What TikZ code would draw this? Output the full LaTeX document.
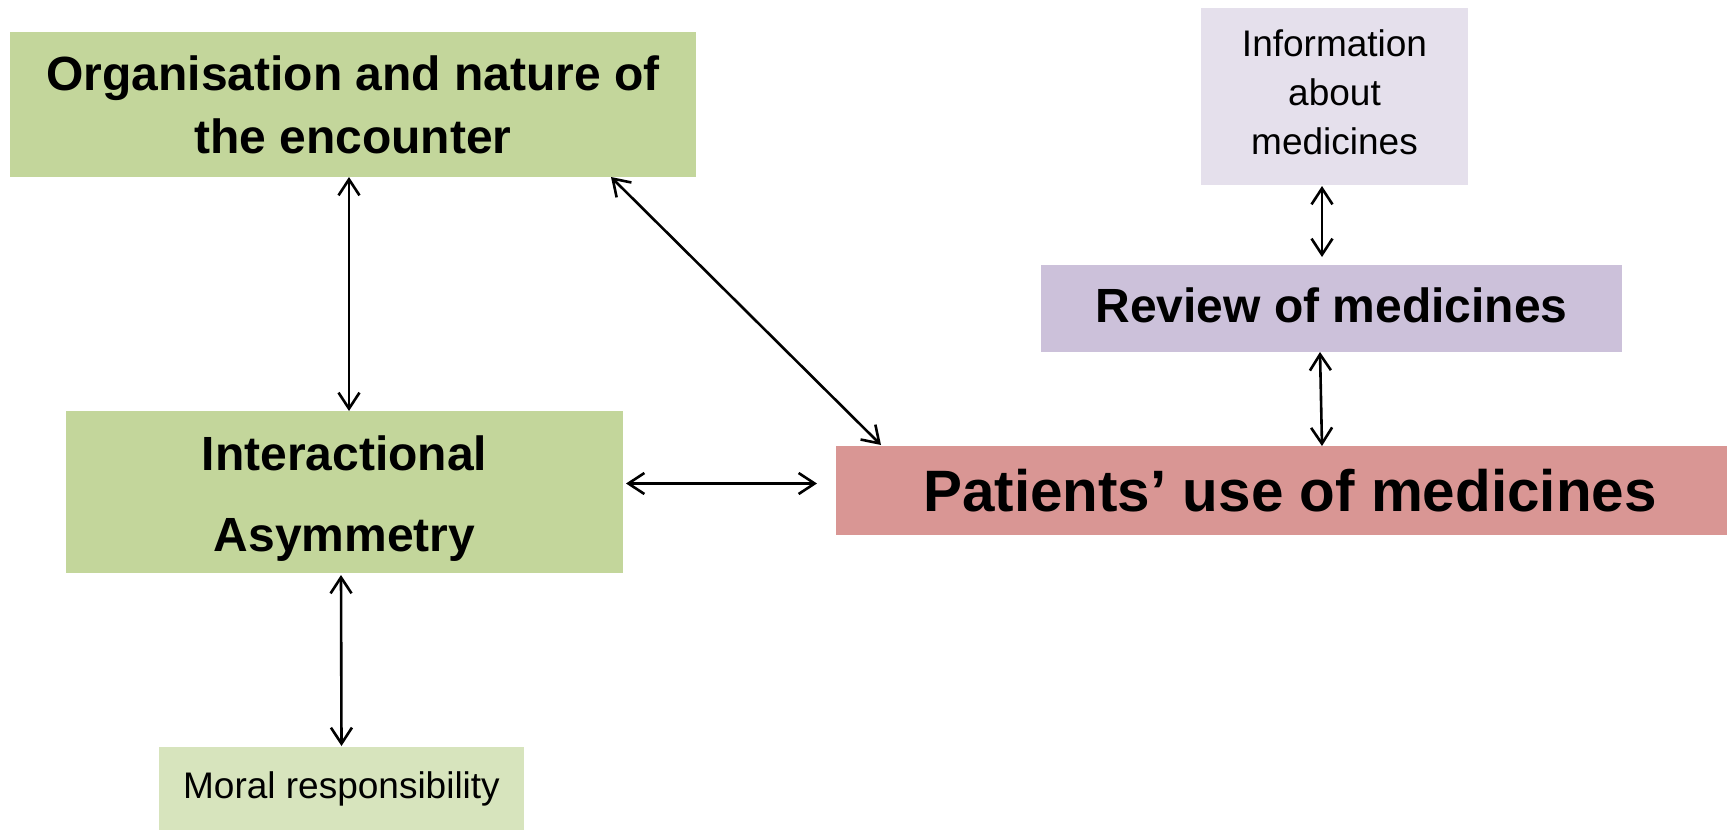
\documentclass[tikz,border=0pt]{standalone}
\usepackage{fontspec}
\setmainfont{Liberation Sans}
\usetikzlibrary{arrows.meta,calc}
\definecolor{greenA}{HTML}{C3D69B}
\definecolor{greenB}{HTML}{D7E4BD}
\definecolor{lilacA}{HTML}{E5E0EC}
\definecolor{lilacB}{HTML}{CCC1DA}
\definecolor{roseA}{HTML}{D99694}
\tikzset{
  boxnode/.style={inner sep=0pt, outer sep=0pt, align=center, text=black},
  link/.style={{Straight Barb[length=16pt,width=21pt]}-{Straight Barb[length=16pt,width=21pt]}, line width=2.6pt, black}
}
\begin{document}
\begin{tikzpicture}[x=1pt,y=-1pt]
\useasboundingbox (0,0) rectangle (1727,830);
\node[boxnode, fill=greenA, minimum width=686pt, minimum height=145pt,
  font=\fontsize{48}{63}\selectfont\bfseries] (org) at (353,104.5)
  {Organisation and nature of\\the encounter};
\node[boxnode, fill=greenA, minimum width=557pt, minimum height=162pt,
  font=\fontsize{48}{81}\selectfont\bfseries] (inter) at (344.5,492)
  {\rule{0pt}{47pt}Interactional\\Asymmetry};
\node[boxnode, fill=greenB, minimum width=365pt, minimum height=83pt,
  font=\fontsize{37}{44}\selectfont] (moral) at (341.5,788.5)
  {Moral responsibility\rule[-4pt]{0pt}{0pt}};
\node[boxnode, fill=lilacA, minimum width=267pt, minimum height=177pt,
  font=\fontsize{37}{49}\selectfont] (info) at (1334.5,96.5)
  {Information\\about\\medicines\rule[-9pt]{0pt}{0pt}};
\node[boxnode, fill=lilacB, minimum width=581pt, minimum height=87pt,
  font=\fontsize{48}{58}\selectfont\bfseries] (review) at (1331.5,308.5)
  {Review of medicines\rule[-7pt]{0pt}{0pt}};
\node[boxnode, fill=roseA, minimum width=891pt, minimum height=89pt,
  font=\fontsize{58.4}{70}\selectfont\bfseries] (patients) at (1281.5,490.5)
  {\hspace*{17pt}Patients’ use of medicines};

\draw[link] ($(org.south)+(-4,0)$) -- ($(inter.north)+(4.5,0)$);
\draw[link] ($(inter.south)+(-3.5,2)$) -- ($(moral.north)+(0,-1)$);
\draw[link] ($(inter.east)+(3,-8.5)$) -- ($(inter.east -| patients.west)+(-19,-8.5)$);
\draw[link] ($(org.south east)+(-85,0)$) -- ($(patients.north west)+(45,-1)$);
\draw[link] ($(info.south)+(-12.5,1)$) -- ($(review.north)+(-9.5,-8)$);
\draw[link] ($(review.south)+(-11.5,0)$) -- ($(patients.north)+(40.5,0)$);
\end{tikzpicture}
\end{document}
